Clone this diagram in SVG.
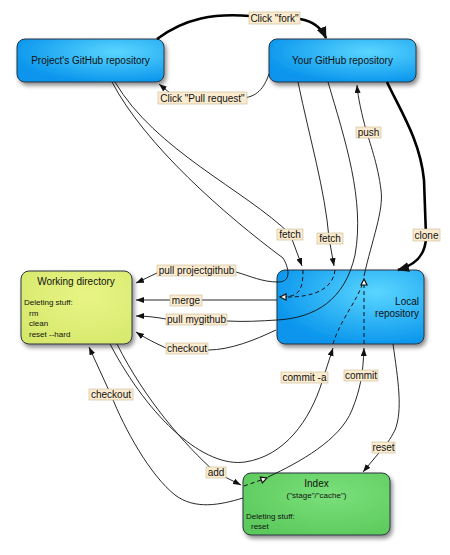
<svg xmlns="http://www.w3.org/2000/svg" width="450" height="555" viewBox="0 0 450 555">
<defs>
  <radialGradient id="gBlue" cx="0.68" cy="0.3" r="0.75">
    <stop offset="0" stop-color="#5ad6ff"/>
    <stop offset="1" stop-color="#0894ec"/>
  </radialGradient>
  <radialGradient id="gYel" cx="0.6" cy="0.35" r="0.75">
    <stop offset="0" stop-color="#e8f585"/>
    <stop offset="1" stop-color="#d6e86c"/>
  </radialGradient>
  <radialGradient id="gGrn" cx="0.6" cy="0.35" r="0.75">
    <stop offset="0" stop-color="#7ae07a"/>
    <stop offset="1" stop-color="#5cc95c"/>
  </radialGradient>
  <filter id="sh" x="-10%" y="-10%" width="125%" height="135%">
    <feDropShadow dx="2" dy="3" stdDeviation="2" flood-color="#000" flood-opacity="0.45"/>
  </filter>
  <marker id="ar" markerUnits="userSpaceOnUse" markerWidth="9" markerHeight="7" refX="8" refY="3" orient="auto">
    <path d="M0,0 L8,3 L0,6 z" fill="#111"/>
  </marker>
  <marker id="arB" markerUnits="userSpaceOnUse" markerWidth="13" markerHeight="11" refX="11" refY="5" orient="auto">
    <path d="M0,0 L12,5 L0,10 z" fill="#111"/>
  </marker>
  <marker id="tri" markerUnits="userSpaceOnUse" markerWidth="10" markerHeight="9" refX="7" refY="4" orient="auto">
    <path d="M1,1 L7,4 L1,7 z" fill="#fff" stroke="#111" stroke-width="1.2"/>
  </marker>
</defs>
<style>
  .node { stroke: #2a3440; stroke-width: 1; filter: url(#sh); }
  .t { font-family: "Liberation Sans", Arial, sans-serif; font-size: 10px; fill: #111; }
  .s { font-family: "Liberation Sans", Arial, sans-serif; font-size: 8px; fill: #111; }
  .c { text-anchor: middle; }
  .e { fill: none; stroke: #111; stroke-width: 0.9; }
  .thick { fill: none; stroke: #000; stroke-width: 2.6; }
  .d { fill: none; stroke: #111; stroke-width: 1; stroke-dasharray: 4 3; }
  .lbl rect { fill: #fbecd0; stroke: #c9b891; stroke-width: 0.6; }
  .lbl text { font-family: "Liberation Sans", Arial, sans-serif; font-size: 10px; fill: #111; text-anchor: middle; }
</style>

<g id="project-github">
  <rect class="node" x="17" y="39" width="147" height="43" rx="8" fill="url(#gBlue)"/>
  <text class="t c" x="90.5" y="64">Project's GitHub repository</text>
</g>
<g id="your-github">
  <rect class="node" x="269" y="39" width="147" height="43" rx="8" fill="url(#gBlue)"/>
  <text class="t c" x="342.5" y="64">Your GitHub repository</text>
</g>
<g id="working-directory">
  <rect class="node" x="21" y="271" width="111" height="73" rx="8" fill="url(#gYel)"/>
  <text class="t c" x="76" y="285">Working directory</text>
  <text class="s" x="24" y="305">Deleting stuff:</text>
  <text class="s" x="29" y="315.5">rm</text>
  <text class="s" x="29" y="326">clean</text>
  <text class="s" x="29" y="336.5">reset --hard</text>
</g>
<g id="local-repository">
  <rect class="node" x="277" y="270" width="147" height="74" rx="8" fill="url(#gBlue)"/>
  <text class="t" x="419" y="305" text-anchor="end">Local</text>
  <text class="t" x="419" y="316.5" text-anchor="end">repository</text>
</g>
<g id="index">
  <rect class="node" x="243" y="473" width="147" height="62" rx="8" fill="url(#gGrn)"/>
  <text class="t c" x="316.5" y="487">Index</text>
  <text class="s c" x="316.5" y="498">("stage"/"cache")</text>
  <text class="s" x="246" y="519">Deleting stuff:</text>
  <text class="s" x="251" y="529">reset</text>
</g>

<g id="connectors">
  <path class="thick" d="M157,39 C185,18 215,13 250,16 L300,19 C312,21 321,27 326,38" marker-end="url(#arB)"/>
  <path class="e" d="M269,74 C264,88 257,98 240,98 L178,97 C170,94 165,89 159,84" marker-end="url(#ar)"/>
  <path class="e" d="M112,82 C145,145 225,215 283,258 C288,266 293,282 278,282 C262,282 250,276 236,272 L157,273 C150,276 143,280 136,283" marker-end="url(#ar)"/>
  <path class="e" d="M115,82 C155,150 245,190 290,234 L302,266" marker-end="url(#ar)"/>
  <path class="d" d="M303,270 C303,292 298,297 280,297" marker-end="url(#tri)"/>
  <path class="e" d="M298,82 C310,140 325,190 329,238 L334,266" marker-end="url(#ar)"/>
  <path class="d" d="M335,270 C333,290 312,297 288,297"/>
  <path class="e" d="M328,82 C345,140 365,200 355,255 C345,300 315,318 277,320 C260,321 245,322 227,321 L166,319 C155,317 145,316 136,316" marker-end="url(#ar)"/>
  <path class="e" d="M364,276 C372,240 384,210 381,190 C378,165 369,140 366,130 C362,115 358,98 357,85" marker-end="url(#ar)"/>
  <path class="thick" d="M387,82 C400,110 420,140 424,180 L426,236 C426,258 412,266 398,270" marker-end="url(#arB)"/>
  <path class="e" d="M277,300 L136,300" marker-end="url(#ar)"/>
  <path class="e" d="M276,330 C255,340 230,350 208,350 L166,348 C155,343 145,338 136,332" marker-end="url(#ar)"/>
  <path class="e" d="M110,344 C150,420 205,468 245,462 C285,456 310,420 322,382 L333,348" marker-end="url(#ar)"/>
  <path class="d" d="M333,344 C340,320 358,300 363,282"/>
  <path class="e" d="M268,477 C300,462 340,440 352,410 C360,390 363,375 364,348" marker-end="url(#ar)"/>
  <path class="d" d="M364,344 L364,279" marker-end="url(#tri)"/>
  <path class="e" d="M117,344 C145,400 185,445 215,472 L241,485" marker-end="url(#ar)"/>
  <path class="d" d="M244,486 L267,478" marker-end="url(#tri)"/>
  <path class="e" d="M243,498 C220,505 195,510 175,495 C150,475 125,430 111,395 L89,347" marker-end="url(#ar)"/>
  <path class="e" d="M393,344 C398,380 403,410 395,430 C390,440 385,446 383,448 L363,472" marker-end="url(#ar)"/>

  <g class="lbl"><rect x="249" y="12" width="51" height="12"/><text x="274.5" y="21.5">Click "fork"</text></g>
  <g class="lbl"><rect x="158" y="92" width="89" height="12"/><text x="202.5" y="101.5">Click "Pull request"</text></g>
  <g class="lbl"><rect x="277" y="229" width="26" height="11"/><text x="290" y="237.5">fetch</text></g>
  <g class="lbl"><rect x="317" y="233" width="26" height="11"/><text x="330" y="241.5">fetch</text></g>
  <g class="lbl"><rect x="356" y="127" width="25" height="11"/><text x="368.5" y="135.5">push</text></g>
  <g class="lbl"><rect x="413" y="229" width="27" height="12"/><text x="426.5" y="238.5">clone</text></g>
  <g class="lbl"><rect x="157" y="265" width="79" height="11"/><text x="196.5" y="273.5">pull projectgithub</text></g>
  <g class="lbl"><rect x="170" y="295" width="32" height="11"/><text x="186" y="303.5">merge</text></g>
  <g class="lbl"><rect x="166" y="314" width="61" height="11"/><text x="196.5" y="322.5">pull mygithub</text></g>
  <g class="lbl"><rect x="166" y="343" width="42" height="11"/><text x="187" y="351.5">checkout</text></g>
  <g class="lbl"><rect x="281" y="372" width="47" height="11"/><text x="304.5" y="380.5">commit -a</text></g>
  <g class="lbl"><rect x="344" y="370" width="34" height="11"/><text x="361" y="378.5">commit</text></g>
  <g class="lbl"><rect x="89" y="389" width="44" height="11"/><text x="111" y="397.5">checkout</text></g>
  <g class="lbl"><rect x="206" y="467" width="20" height="11"/><text x="216" y="475.5">add</text></g>
  <g class="lbl"><rect x="372" y="442" width="23" height="11"/><text x="383.5" y="450.5">reset</text></g>
</g>
</svg>
